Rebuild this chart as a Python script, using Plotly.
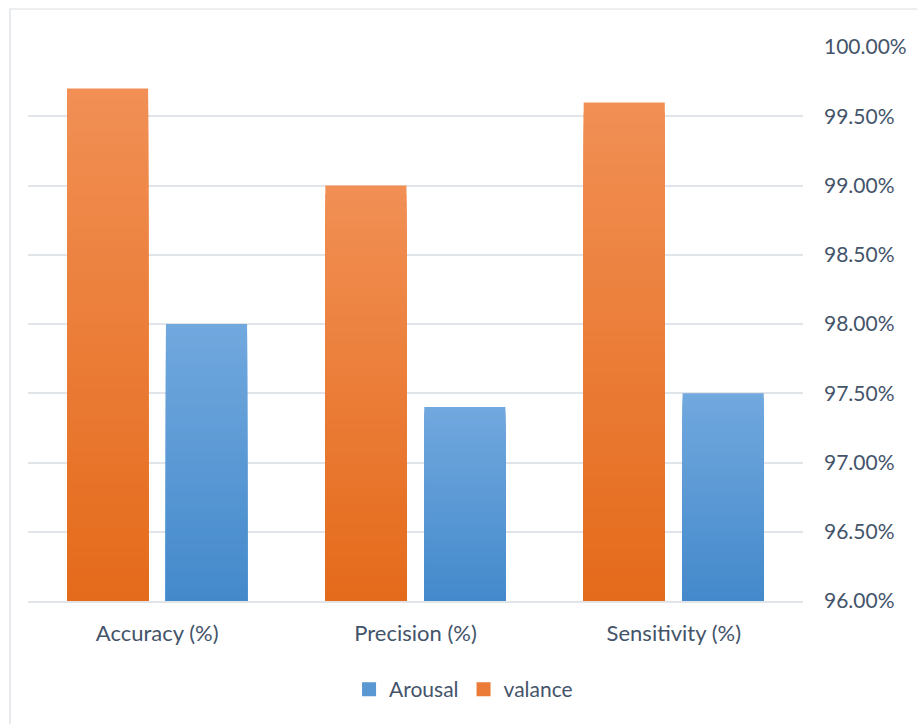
import plotly.graph_objects as go

# Data
categories = ["Accuracy (%)", "Precision (%)", "Sensitivity (%)"]
valance = [99.70, 99.00, 99.60]
arousal = [98.00, 97.40, 97.50]
y_ticks = [96.0, 96.5, 97.0, 97.5, 98.0, 98.5, 99.0, 99.5, 100.0]
y_tick_labels = [f"{t:.2f}%" for t in y_ticks]

BASE = 96.0
FONT = "Lato, 'Open Sans', sans-serif"
TEXT = "#44546A"
GRID = "#E1E4E8"
FS = 21

# bar gradient: light at the top of each bar, darker at its base
ORANGE_TOP, ORANGE_BOT = (241, 143, 84), (228, 106, 26)
BLUE_TOP, BLUE_BOT = (113, 168, 222), (67, 137, 203)

BAR_W = 0.314
N_STEPS = 48


def mix(c1, c2, t):
    return "rgb(%d,%d,%d)" % tuple(round(a + (b - a) * t) for a, b in zip(c1, c2))


fig = go.Figure()


def add_series(name, values, top, bot, offset, rank):
    heights = [v - BASE for v in values]
    for k in range(N_STEPS):
        f = 1 - k / N_STEPS
        fig.add_trace(go.Bar(
            x=categories,
            y=[h * f for h in heights],
            base=BASE,
            width=BAR_W,
            offset=offset,
            marker=dict(color=mix(bot, top, f), line=dict(width=0)),
            name=name,
            legendgroup=name,
            showlegend=False,
            hoverinfo="skip",
        ))
    # legend entry: square swatch
    fig.add_trace(go.Scatter(
        x=[None], y=[None],
        mode="markers",
        marker=dict(symbol="square", size=14, color=mix(bot, top, 0.5)),
        name=name,
        legendgroup=name,
        legendrank=rank,
        showlegend=True,
    ))


add_series("valance", valance, ORANGE_TOP, ORANGE_BOT, -0.349, 2)
add_series("Arousal", arousal, BLUE_TOP, BLUE_BOT, 0.034, 1)

fig.update_layout(
    width=917,
    height=724,
    margin=dict(l=28, r=114, t=47, b=123),
    paper_bgcolor="white",
    plot_bgcolor="white",
    barmode="overlay",
    font=dict(family=FONT, size=FS, color=TEXT),
    showlegend=True,
    legend=dict(
        orientation="h",
        x=0.562, xanchor="center",
        y=-0.16, yanchor="middle",
        font=dict(family=FONT, size=FS, color=TEXT),
        itemwidth=30,
        traceorder="normal",
    ),
    xaxis=dict(
        type="category",
        automargin=False,
        showgrid=False,
        showline=True,
        linecolor=GRID,
        linewidth=1.5,
        ticks="",
        ticklabelstandoff=12,
        tickfont=dict(family=FONT, size=22, color=TEXT),
    ),
    yaxis=dict(
        side="right",
        automargin=False,
        range=[96, 100],
        tickvals=y_ticks,
        ticktext=y_tick_labels,
        showgrid=True,
        gridcolor=GRID,
        gridwidth=1.5,
        zeroline=False,
        showline=False,
        ticks="",
        ticklabelstandoff=20,
        tickfont=dict(family=FONT, size=FS, color=TEXT),
    ),
    shapes=[dict(
        type="rect", xref="paper", yref="paper",
        x0=-0.0232, x1=1.3, y0=-0.4, y1=1.0686,
        line=dict(color="#D9DDE2", width=1.2),
        fillcolor="rgba(0,0,0,0)",
        layer="below",
    )],
)

fig.write_html("out.html")
